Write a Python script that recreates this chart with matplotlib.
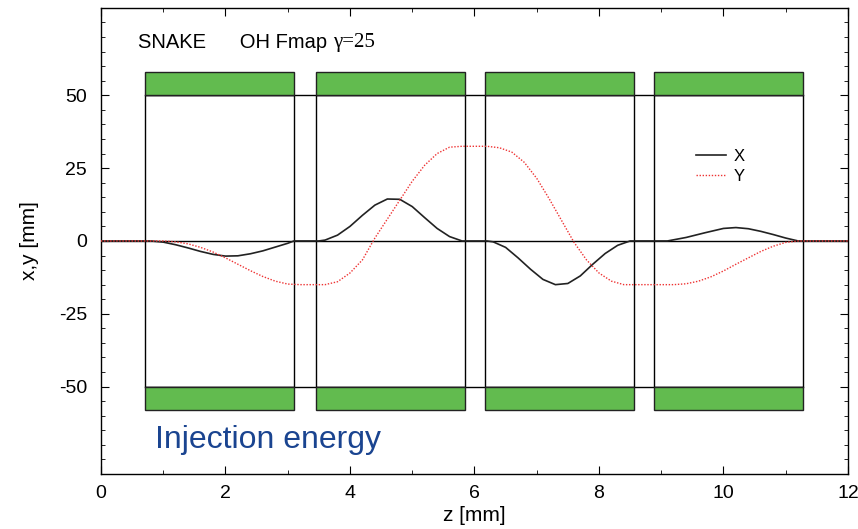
import matplotlib
matplotlib.use("Agg")
import matplotlib.pyplot as plt
from matplotlib.patches import Rectangle
from matplotlib.ticker import MultipleLocator

plt.rcParams['font.family'] = ['Liberation Sans', 'DejaVu Sans']
plt.rcParams['axes.unicode_minus'] = False

# Magnet z-extents (start, end)
magnet_start = [0.71, 3.45, 6.17, 8.88]
magnet_end = [3.10, 5.85, 8.57, 11.28]
aperture = 50
pole_top = 58

# X trajectory
z_x = [0, 0.8, 1.0, 1.2, 1.4, 1.6, 1.8, 2.0, 2.2, 2.4, 2.6, 2.8, 3.0, 3.1,
       3.5, 3.6, 3.8, 4.0, 4.2, 4.4, 4.6, 4.8, 5.0, 5.2, 5.4, 5.6, 5.8,
       6.2, 6.3, 6.5, 6.7, 6.9, 7.1, 7.3, 7.5, 7.7, 7.9, 8.1, 8.3, 8.5,
       9.1, 9.4, 9.7, 10.0, 10.2, 10.4, 10.6, 10.8, 11.0, 11.2, 12]
x_vals = [0, 0, -0.4, -1.3, -2.4, -3.6, -4.6, -5.2, -5.1, -4.4, -3.4, -2.1, -0.8, 0,
          0, 0.3, 2.0, 5.0, 8.8, 12.3, 14.4, 14.3, 11.8, 8.0, 4.3, 1.5, 0,
          0, -0.3, -2.2, -5.8, -9.7, -13.2, -15.0, -14.6, -12.0, -8.0, -4.3, -1.5, 0,
          0, 1.2, 2.8, 4.3, 4.6, 4.2, 3.3, 2.2, 1.0, 0, 0]

# Y trajectory
z_y = [0, 1.0, 1.2, 1.4, 1.6, 1.8, 2.0, 2.2, 2.4, 2.6, 2.8, 3.0, 3.2, 3.6,
       3.8, 4.0, 4.2, 4.4, 4.6, 4.8, 5.0, 5.2, 5.4, 5.6, 5.8, 6.2, 6.4, 6.6,
       6.8, 7.0, 7.2, 7.4, 7.6, 7.8, 8.0, 8.2, 8.4, 9.2, 9.4, 9.6, 9.8, 10.0,
       10.2, 10.4, 10.6, 10.8, 11.0, 11.2, 12]
y_vals = [0, 0, -0.3, -1.0, -2.2, -3.8, -5.8, -8.0, -10.2, -12.2, -13.8, -14.8, -15, -15,
          -14.0, -11.0, -6.5, 1.0, 7.5, 14.0, 20.5, 26.0, 30.0, 32.2, 32.5, 32.5, 32.0, 30.5,
          27.0, 21.5, 14.5, 7.0, -0.5, -6.5, -11.0, -13.8, -15.0, -15, -14.7, -13.8, -12.3, -10.3,
          -8.0, -5.8, -3.6, -1.8, -0.5, 0, 0]

fig = plt.figure(figsize=(8.58, 5.29), dpi=100)
ax = fig.add_axes([0.1177, 0.104, 0.8706, 0.881])

green = '#62bb4f'
for s, e in zip(magnet_start, magnet_end):
    ax.add_patch(Rectangle((s, -aperture), e - s, 2 * aperture, fill=False,
                           edgecolor='black', linewidth=1.0, zorder=2))
    ax.add_patch(Rectangle((s, aperture), e - s, pole_top - aperture, facecolor=green,
                           edgecolor='#222222', linewidth=1.0, zorder=3))
    ax.add_patch(Rectangle((s, -pole_top), e - s, pole_top - aperture, facecolor=green,
                           edgecolor='#222222', linewidth=1.0, zorder=3))

ax.plot([magnet_start[0], magnet_end[-1]], [aperture, aperture], color='black', lw=1.0, zorder=2)
ax.plot([magnet_start[0], magnet_end[-1]], [-aperture, -aperture], color='black', lw=1.0, zorder=2)
ax.axhline(0, color='black', lw=1.0, zorder=2)

ax.plot(z_x, x_vals, color='#222222', lw=1.2, label='X', zorder=4)
ax.plot(z_y, y_vals, color='#ee3333', lw=1.0, ls=(0, (1, 1.2)), label='Y', zorder=4)

ax.set_xlim(0, 12)
ax.set_ylim(-80, 80)
ax.set_xticks([0, 2, 4, 6, 8, 10, 12])
ax.set_yticks([-50, -25, 0, 25, 50])
ax.xaxis.set_minor_locator(MultipleLocator(1))
ax.yaxis.set_minor_locator(MultipleLocator(5))
ax.tick_params(which='both', direction='in', top=True, right=True, labelsize=14)
ax.tick_params(which='major', length=6)
ax.tick_params(which='minor', length=3)
ax.tick_params(axis='x', which='major', pad=8)
ax.tick_params(axis='y', which='major', pad=10)
ax.set_xlabel('z [mm]', fontsize=15, labelpad=3)
ax.set_ylabel('x,y [mm]', fontsize=15, labelpad=14)
for sp in ax.spines.values():
    sp.set_linewidth(1.0)

t1 = ax.text(0.6, 68, 'SNAKE      OH Fmap ', fontsize=14.5, va='center', ha='left')
ax.annotate('γ=25', xy=(1, 0.5), xycoords=t1, fontsize=15, va='center', ha='left',
            family=['Liberation Serif', 'DejaVu Serif'])
ax.text(0.87, -68.5, 'Injection energy', fontsize=23, color='#1a4490', va='center', ha='left')

ax.legend(loc='upper left', bbox_to_anchor=(0.785, 0.715), frameon=False, fontsize=12,
          handlelength=1.8, handletextpad=0.45, labelspacing=0.3, borderpad=0)

fig.savefig('out.png', dpi=100)
